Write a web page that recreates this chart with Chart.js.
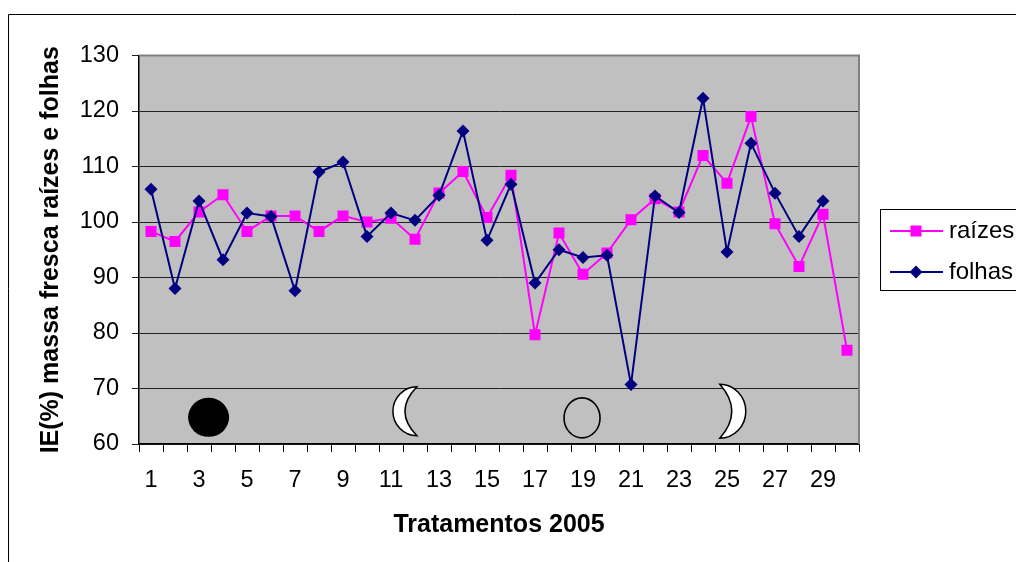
<!DOCTYPE html>
<html>
<head>
<meta charset="utf-8">
<style>html,body{margin:0;padding:0;background:#fff;overflow:hidden}canvas{display:block}</style>
<script src="https://cdn.jsdelivr.net/npm/chart.js@4"></script>
</head>
<body>
<canvas id="c" width="1016" height="562"></canvas>
<script>
const categories = ["1","2","3","4","5","6","7","8","9","10","11","12","13","14","15","16","17","18","19","20","21","22","23","24","25","26","27","28","29","30"];
const raizes = [98.3,96.5,101.8,104.9,98.3,101.1,101.1,98.3,101.1,100,100.7,96.9,105.2,109.1,100.8,108.4,79.7,98,90.6,94.4,100.4,104.2,101.8,112,107,119,99.7,92,101.4,76.9];
const folhas = [105.9,88,103.8,93.2,101.6,101,87.6,109,110.8,97.4,101.6,100.3,104.8,116.4,96.7,106.8,89,95,93.6,94,70.7,104.7,101.7,122.3,94.6,114.2,105.2,97.4,103.8,null];
const yTicks = [60,70,80,90,100,110,120,130];
const moonPhases = ["new","waxing","full","waning"];
const moonIndex = [2.4,11.08,17.96,23.7];
const moonLevel = [64.8,65.9,64.7,65.9];

const FONT = '"Liberation Sans", Arial, sans-serif';
const PINK = '#FF00FF', NAVY = '#000080';

const decor = {
  id:'decor',
  beforeDraw(chart){
    const {ctx,chartArea:a} = chart;
    ctx.save();
    ctx.fillStyle='#fff';ctx.fillRect(0,0,chart.width,chart.height);
    ctx.strokeStyle='#000';ctx.lineWidth=1;
    ctx.beginPath();ctx.moveTo(8.5,562);ctx.lineTo(8.5,14.5);ctx.lineTo(1016,14.5);ctx.stroke();
    ctx.fillStyle='#C0C0C0';ctx.fillRect(a.left,a.top,a.right-a.left,a.bottom-a.top);
    ctx.restore();
  },
  afterDatasetsDraw(chart){
    const {ctx,chartArea:a,scales:{x,y}} = chart;
    ctx.save();
    ctx.strokeStyle='#808080';ctx.lineWidth=2;
    ctx.beginPath();ctx.moveTo(a.left,a.top);ctx.lineTo(a.right,a.top);ctx.lineTo(a.right,a.bottom);ctx.stroke();
    moonPhases.forEach((p,i)=>{
      const cx=x.getPixelForValue(moonIndex[i]), cy=y.getPixelForValue(moonLevel[i]);
      ctx.lineWidth=1.5;ctx.strokeStyle='#000';
      ctx.beginPath();
      if(p==='new'){ctx.ellipse(cx,cy,20.5,19.5,0,0,Math.PI*2);ctx.fillStyle='#000';ctx.fill();}
      else if(p==='full'){ctx.ellipse(cx,cy,18,20,0,0,Math.PI*2);ctx.lineWidth=1.6;ctx.stroke();}
      else{
        const s=p==='waxing'?-1:1, h=p==='waxing'?24.5:27, o=p==='waxing'?24:26, n=12;
        ctx.ellipse(cx,cy,o,h,0,-Math.PI/2,Math.PI/2,s<0);
        ctx.quadraticCurveTo(cx+s*n*2,cy,cx,cy-h);
        ctx.closePath();ctx.fillStyle='#fff';ctx.fill();ctx.stroke();
      }
    });
    // legend box
    ctx.fillStyle='#fff';ctx.fillRect(880.5,209.5,140,81);
    ctx.strokeStyle='#000';ctx.lineWidth=1;ctx.strokeRect(880.5,209.5,140,81);
    chart.data.datasets.forEach((ds,i)=>{
      const ly=231+i*41;
      ctx.strokeStyle=ds.borderColor;ctx.lineWidth=2;
      ctx.beginPath();ctx.moveTo(890,ly);ctx.lineTo(943,ly);ctx.stroke();
      ctx.fillStyle=ds.backgroundColor;
      if(i===0){ctx.fillRect(910.5,ly-5.5,11,11);}
      else{ctx.beginPath();ctx.moveTo(916,ly-6.5);ctx.lineTo(922.5,ly);ctx.lineTo(916,ly+6.5);ctx.lineTo(909.5,ly);ctx.closePath();ctx.fill();}
      ctx.fillStyle='#000';ctx.font='24px '+FONT;ctx.textBaseline='middle';ctx.textAlign='left';
      ctx.fillText(ds.label,949,ly);
    });
    ctx.restore();
  }
};

new Chart(document.getElementById('c'),{
  type:'line',
  data:{labels:categories,datasets:[
    {label:'raízes',data:raizes,borderColor:PINK,backgroundColor:PINK,borderWidth:2,pointStyle:'rect',pointRadius:7.8,pointHoverRadius:7.8,pointBorderWidth:0,tension:0,spanGaps:false,order:2},
    {label:'folhas',data:folhas,borderColor:NAVY,backgroundColor:NAVY,borderWidth:2,pointStyle:'rectRot',pointRadius:6.5,pointHoverRadius:6.5,pointBorderWidth:0,tension:0,spanGaps:false,order:1}
  ]},
  options:{
    responsive:false,animation:false,devicePixelRatio:1,
    layout:{padding:{left:0,top:55.5,right:157,bottom:0}},
    plugins:{legend:{display:false},title:{display:false},tooltip:{enabled:false}},
    scales:{
      x:{
        type:'category',offset:true,
        grid:{display:true,offset:true,drawOnChartArea:false,drawTicks:true,tickLength:8,color:'#000',lineWidth:1},
        border:{display:true,color:'#000',width:1.5},
        ticks:{autoSkip:false,maxRotation:0,minRotation:0,padding:14,color:'#000',font:{family:FONT,size:23.5},
          callback(v,i){return i%2===0?categories[i]:'';}},
        title:{display:true,text:'Tratamentos 2005',color:'#000',font:{family:FONT,size:25,weight:'bold'},padding:{top:16,bottom:22}},
        afterFit(s){s.height=118;}
      },
      y:{
        min:60,max:130,
        afterBuildTicks(s){s.ticks=yTicks.map(v=>({value:v}));},
        grid:{color:'#222',lineWidth:1,tickLength:7,drawTicks:true},
        border:{display:true,color:'#000',width:1.5},
        ticks:{padding:13,color:'#000',font:{family:FONT,size:23.5}},
        title:{display:true,text:'IE(%) massa fresca raízes e folhas',color:'#000',font:{family:FONT,size:25,weight:'bold'},padding:{top:36.5,bottom:0}},
        afterFit(s){s.width=139;}
      }
    }
  },
  plugins:[decor]
});
</script>
</body>
</html>
